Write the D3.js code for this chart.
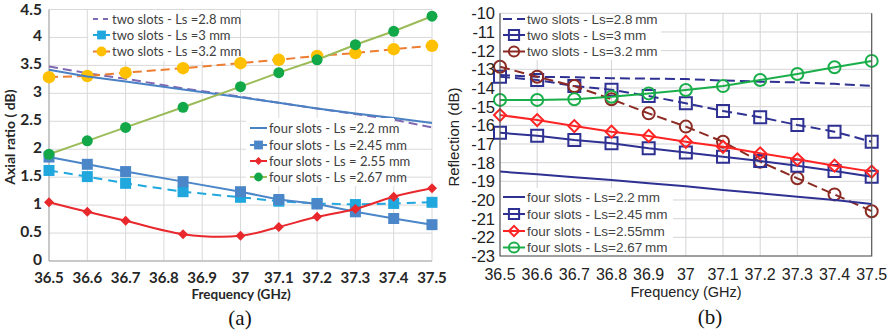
<!DOCTYPE html>
<html>
<head>
<meta charset="utf-8">
<script src="https://cdn.jsdelivr.net/npm/d3@7"></script>
<style>
    body { margin: 0; background: #fff; }
    svg { display: block; }
</style>
</head>
<body>
<svg id="chart" width="895" height="333"></svg>
<script>
// (a) axial ratio, dB
const freqA = [36.5, 36.6, 36.7, 36.85, 37, 37.1, 37.2, 37.3, 37.4, 37.5];
const arTwo28 = [3.48, 3.36, 3.26, 3.09, 2.94, 2.83, 2.73, 2.63, 2.53, 2.39];
const arTwo3 = [1.62, 1.51, 1.39, 1.24, 1.14, 1.07, 1.03, 1.01, 1.03, 1.05];
const arTwo32 = [3.29, 3.31, 3.37, 3.45, 3.54, 3.60, 3.67, 3.72, 3.79, 3.85];
const arFour22 = [3.42, 3.30, 3.21, 3.07, 2.93, 2.83, 2.73, 2.64, 2.56, 2.47];
const arFour245 = [1.86, 1.73, 1.60, 1.42, 1.24, 1.10, 1.02, 0.88, 0.76, 0.65];
const arFour255 = [1.05, 0.88, 0.72, 0.48, 0.45, 0.61, 0.79, 0.93, 1.15, 1.30];
const arFour267 = [1.91, 2.15, 2.39, 2.75, 3.12, 3.37, 3.60, 3.87, 4.11, 4.38];
const xTicksA = [36.5, 36.6, 36.7, 36.8, 36.9, 37, 37.1, 37.2, 37.3, 37.4, 37.5];
const yTicksA = [0, 0.5, 1, 1.5, 2, 2.5, 3, 3.5, 4, 4.5];

// (b) reflection, dB
const freqB = [36.5, 36.6, 36.7, 36.8, 36.9, 37, 37.1, 37.2, 37.3, 37.4, 37.5];
const rfTwo28 = [-13.3, -13.4, -13.43, -13.48, -13.5, -13.52, -13.6, -13.66, -13.7, -13.78, -13.88];
const rfTwo3 = [-13.4, -13.57, -13.9, -14.1, -14.43, -14.82, -15.23, -15.57, -15.98, -16.34, -16.88];
const rfTwo32 = [-12.86, -13.4, -13.9, -14.6, -15.36, -16.07, -16.88, -17.95, -18.84, -19.7, -20.6];
const rfFour22 = [-18.48, -18.62, -18.78, -18.93, -19.1, -19.27, -19.47, -19.64, -19.82, -20.0, -20.22];
const rfFour245 = [-16.4, -16.56, -16.79, -16.96, -17.23, -17.45, -17.68, -17.91, -18.16, -18.45, -18.75];
const rfFour255 = [-15.45, -15.72, -16.04, -16.34, -16.57, -16.88, -17.15, -17.5, -17.82, -18.16, -18.48];
const rfFour267 = [-14.64, -14.64, -14.6, -14.47, -14.29, -14.11, -13.9, -13.57, -13.25, -12.89, -12.55];
const xTicksB = [36.5, 36.6, 36.7, 36.8, 36.9, 37, 37.1, 37.2, 37.3, 37.4, 37.5];
const yTicksB = d3.range(-10, -24, -1);
const xGridB = [36.6, 36.8, 37, 37.1, 37.2, 37.3];

const svg = d3.select('#chart');
svg.append('rect').attr('width', 895).attr('height', 333).attr('fill', '#fff');

function markerPath(type, size) {
    if (type === 'square') return d3.symbol(d3.symbolSquare, size * size)();
    if (type === 'circle') return d3.symbol(d3.symbolCircle, Math.PI * size * size / 4)();
    if (type === 'diamond') return d3.symbol(d3.symbolSquare, size * size / 2)();
    return null;
}

function drawSeries(g, x, y, xs, s) {
    const pts = xs.map((f, i) => [x(f), y(s.values[i])]);
    const line = d3.line().curve(s.smooth ? d3.curveCatmullRom.alpha(0.5) : d3.curveLinear);
    g.append('path')
        .attr('d', line(pts))
        .attr('fill', 'none')
        .attr('stroke', s.line)
        .attr('stroke-width', s.width)
        .attr('stroke-dasharray', s.dash || null);
    if (!s.marker) return;
    g.append('g')
        .selectAll('path')
        .data(pts)
        .enter()
        .append('path')
        .attr('d', markerPath(s.marker, s.size))
        .attr('transform', d => `translate(${d[0]},${d[1]})` + (s.marker === 'diamond' ? ' rotate(45)' : ''))
        .attr('fill', s.fill)
        .attr('stroke', s.stroke || 'none')
        .attr('stroke-width', s.strokeWidth || 0);
}

function drawLegend(g, items, x0, rows, box, font) {
    g.append('rect')
        .attr('x', box[0]).attr('y', box[1])
        .attr('width', box[2]).attr('height', box[3])
        .attr('fill', '#fff');
    items.forEach((s, i) => {
        const yy = rows[i];
        g.append('line')
            .attr('x1', x0).attr('x2', x0 + font.sample)
            .attr('y1', yy).attr('y2', yy)
            .attr('stroke', s.line)
            .attr('stroke-width', s.width)
            .attr('stroke-dasharray', s.legendDash || null);
        if (s.marker) {
            g.append('path')
                .attr('d', markerPath(s.marker, s.size))
                .attr('transform', `translate(${x0 + font.sample / 2},${yy})` + (s.marker === 'diamond' ? ' rotate(45)' : ''))
                .attr('fill', s.fill)
                .attr('stroke', s.stroke || 'none')
                .attr('stroke-width', s.strokeWidth || 0);
        }
        g.append('text')
            .attr('x', x0 + font.sample + 2)
            .attr('y', yy)
            .attr('dy', '0.35em')
            .attr('font-family', font.family)
            .attr('font-size', font.size)
            .attr('fill', font.color)
            .text(s.label);
    });
}

// ---------- panel (a) ----------
function drawPanelA() {
    const x = d3.scaleLinear([36.5, 37.5], [49, 432]);
    const y = d3.scaleLinear([0, 4.5], [261, 9.5]);
    const g = svg.append('g');
    const font = 'Lato, "Open Sans", sans-serif';

    g.append('g')
        .selectAll('line')
        .data(xTicksA)
        .enter()
        .append('line')
        .attr('x1', d => x(d)).attr('x2', d => x(d))
        .attr('y1', y(4.5)).attr('y2', y(0))
        .attr('stroke', '#d9d9d9');
    g.append('g')
        .selectAll('line')
        .data(yTicksA)
        .enter()
        .append('line')
        .attr('x1', x(36.5)).attr('x2', x(37.5))
        .attr('y1', d => y(d)).attr('y2', d => y(d))
        .attr('stroke', '#d9d9d9');
    g.append('line')
        .attr('x1', x(36.5)).attr('x2', x(36.5))
        .attr('y1', y(4.5)).attr('y2', y(0))
        .attr('stroke', '#a6a6a6');
    g.append('line')
        .attr('x1', x(36.5)).attr('x2', x(37.5))
        .attr('y1', y(0)).attr('y2', y(0))
        .attr('stroke', '#a6a6a6');

    g.append('g')
        .selectAll('text')
        .data(yTicksA)
        .enter()
        .append('text')
        .attr('x', 42)
        .attr('y', d => y(d))
        .attr('dy', d => d === 4.5 ? '0.38em' : '0.26em')
        .attr('text-anchor', 'end')
        .attr('font-family', font)
        .attr('font-weight', 700)
        .attr('font-size', 15.5)
        .attr('fill', '#262626')
        .text(d => d);
    g.append('g')
        .selectAll('text')
        .data(xTicksA)
        .enter()
        .append('text')
        .attr('x', d => x(d))
        .attr('y', 282.5)
        .attr('text-anchor', 'middle')
        .attr('font-family', font)
        .attr('font-weight', 700)
        .attr('font-size', 15)
        .attr('fill', '#262626')
        .text(d => d);

    g.append('text')
        .attr('transform', 'translate(15,137) rotate(-90)')
        .attr('text-anchor', 'middle')
        .attr('font-family', font)
        .attr('font-weight', 700)
        .attr('font-size', 14)
        .attr('fill', '#262626')
        .text('Axial ratio ( dB)');
    g.append('text')
        .attr('x', 241).attr('y', 299)
        .attr('text-anchor', 'middle')
        .attr('font-family', font)
        .attr('font-weight', 700)
        .attr('font-size', 13.5)
        .attr('fill', '#262626')
        .text('Frequency (GHz)');

    const series = [
        { label: 'two slots - Ls =2.8 mm', values: arTwo28, line: '#8069b3', width: 2, dash: '9,5', legendDash: '5,5' },
        { label: 'two slots - Ls =3 mm', values: arTwo3, line: '#1fa7de', width: 2, dash: '9,6', marker: 'square', size: 11, fill: '#1fa7de' },
        { label: 'two slots - Ls =3.2 mm', values: arTwo32, line: '#ed7d31', width: 2, dash: '9,5', marker: 'circle', size: 12.5, fill: '#ffc000' },
        { label: 'four slots - Ls =2.2 mm', values: arFour22, line: '#4a80c4', width: 2 },
        { label: 'four slots - Ls =2.45 mm', values: arFour245, line: '#4a86c8', width: 2, marker: 'square', size: 11, fill: '#4a86c8' },
        { label: 'four slots - Ls = 2.55 mm', values: arFour255, line: '#e8282c', width: 2, smooth: true, marker: 'diamond', size: 10, fill: '#e8282c' },
        { label: 'four slots - Ls =2.67 mm', values: arFour267, line: '#9bbb59', width: 2, marker: 'circle', size: 11, fill: '#12a84a' }
    ];
    const plot = g.append('g');
    series.forEach(s => drawSeries(plot, x, y, freqA, s));

    const legFont = { family: font, size: 13, color: '#404040', sample: 17 };
    const legendSmall = series.map(s => Object.assign({}, s, { size: s.size ? s.size * 0.8 : 0 }));
    drawLegend(g, legendSmall.slice(0, 3), 93, [19, 35, 51.5], [88, 10, 136, 51], legFont);
    drawLegend(g, legendSmall.slice(3), 250, [128, 145, 161, 177], [246, 118, 148, 68], legFont);

    g.append('text')
        .attr('x', 240).attr('y', 325)
        .attr('text-anchor', 'middle')
        .attr('font-family', '"Liberation Serif", "DejaVu Serif", serif')
        .attr('font-size', 21)
        .attr('fill', '#111')
        .text('(a)');
}

// ---------- panel (b) ----------
function drawPanelB() {
    const x = d3.scaleLinear([36.5, 37.5], [500, 871.7]);
    const y = d3.scaleLinear([-23, -10], [256, 13.3]);
    const g = svg.append('g');
    const font = '"Liberation Sans", Arial, sans-serif';

    g.append('g')
        .selectAll('line')
        .data(yTicksB)
        .enter()
        .append('line')
        .attr('x1', x(36.5)).attr('x2', x(37.5))
        .attr('y1', d => y(d)).attr('y2', d => y(d))
        .attr('stroke', '#d4d4d8');
    g.append('g')
        .selectAll('line')
        .data(xGridB)
        .enter()
        .append('line')
        .attr('x1', d => x(d)).attr('x2', d => x(d))
        .attr('y1', y(-10)).attr('y2', y(-23))
        .attr('stroke', '#d4d4d8');

    const series = [
        { label: 'two slots - Ls=2.8\u2009mm', values: rfTwo28, line: '#2e3192', width: 2, dash: '10,5', legendDash: '9,5' },
        { label: 'two slots - Ls=3\u2009mm', values: rfTwo3, line: '#2e3192', width: 2, dash: '10,5', marker: 'square', size: 12, fill: 'none', stroke: '#2e3192', strokeWidth: 2 },
        { label: 'two slots - Ls=3.2\u2009mm', values: rfTwo32, line: '#8b2a22', width: 2, dash: '10,5', marker: 'circle', size: 12, fill: 'none', stroke: '#8b2a22', strokeWidth: 2 },
        { label: 'four slots - Ls=2.2\u2009mm', values: rfFour22, line: '#2e3192', width: 2 },
        { label: 'four slots - Ls=2.45\u2009mm', values: rfFour245, line: '#2e3192', width: 2, marker: 'square', size: 12, fill: 'none', stroke: '#2e3192', strokeWidth: 2 },
        { label: 'four slots - Ls=2.55mm', values: rfFour255, line: '#ff2424', width: 2, marker: 'diamond', size: 12, fill: 'none', stroke: '#ff2424', strokeWidth: 2 },
        { label: 'four slots - Ls=2.67\u2009mm', values: rfFour267, line: '#1aae4a', width: 2, marker: 'circle', size: 12, fill: 'none', stroke: '#1aae4a', strokeWidth: 2 }
    ];
    const plot = g.append('g');
    series.forEach(s => drawSeries(plot, x, y, freqB, s));

    const legFont = { family: font, size: 13.5, color: '#444', sample: 22 };
    const legendSmall = series.map(s => Object.assign({}, s, { size: s.size ? s.size * 0.85 : 0 }));
    drawLegend(g, legendSmall.slice(0, 3), 503, [19, 35, 51.5], [501, 14, 160, 46], legFont);
    drawLegend(g, legendSmall.slice(3), 503, [197, 214, 231, 247.5], [501, 188, 172, 67], legFont);

    g.append('path')
        .attr('d', `M${x(36.5)},${y(-10)}V${y(-23)}H${x(37.5)}V${y(-10)}`)
        .attr('fill', 'none')
        .attr('stroke', '#555')
        .attr('stroke-width', 1.2);

    g.append('g')
        .selectAll('text')
        .data(yTicksB)
        .enter()
        .append('text')
        .attr('x', 495)
        .attr('y', d => y(d))
        .attr('dy', '0.36em')
        .attr('text-anchor', 'end')
        .attr('font-family', font)
        .attr('font-size', 16.5)
        .attr('fill', '#222')
        .text(d => d);
    g.append('g')
        .selectAll('text')
        .data(xTicksB)
        .enter()
        .append('text')
        .attr('x', d => x(d))
        .attr('y', 280)
        .attr('text-anchor', 'middle')
        .attr('font-family', font)
        .attr('font-size', 16)
        .attr('fill', '#222')
        .text(d => d);

    g.append('text')
        .attr('transform', 'translate(459,137) rotate(-90)')
        .attr('text-anchor', 'middle')
        .attr('font-family', font)
        .attr('font-size', 15)
        .attr('fill', '#222')
        .text('Reflection (dB)');
    g.append('text')
        .attr('x', 686).attr('y', 297)
        .attr('text-anchor', 'middle')
        .attr('font-family', font)
        .attr('font-size', 14.5)
        .attr('fill', '#222')
        .text('Frequency (GHz)');

    g.append('text')
        .attr('x', 710).attr('y', 324)
        .attr('text-anchor', 'middle')
        .attr('font-family', '"Liberation Serif", "DejaVu Serif", serif')
        .attr('font-size', 21)
        .attr('fill', '#111')
        .text('(b)');
}

drawPanelA();
drawPanelB();
</script>
</body>
</html>
